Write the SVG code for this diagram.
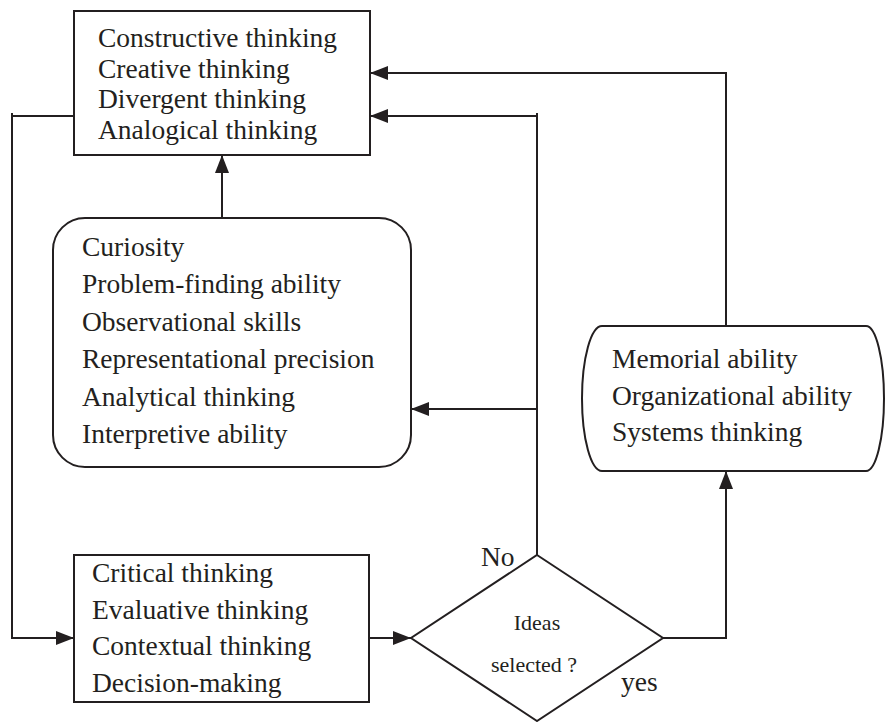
<svg xmlns="http://www.w3.org/2000/svg" width="885" height="722" viewBox="0 0 885 722">
  <defs>
    <marker id="arrow" markerWidth="18" markerHeight="14" refX="18" refY="7" orient="auto" markerUnits="userSpaceOnUse">
      <path d="M0,0 L18,7 L0,14 Z" fill="#231f20"/>
    </marker>
  </defs>
  <style>
    .shape { fill: #ffffff; stroke: #231f20; stroke-width: 2; }
    .wire { fill: none; stroke: #231f20; stroke-width: 2; }
    .label { font-family: "Liberation Serif", "Times New Roman", serif; font-size: 27.5px; fill: #231f20; }
    .small { font-family: "Liberation Serif", "Times New Roman", serif; font-size: 22px; fill: #231f20; }
  </style>
  <rect width="885" height="722" fill="#ffffff"/>

  <!-- connectors -->
  <g id="connectors">
    <!-- rounded box up to the thinking box -->
    <line class="wire" x1="222" y1="218" x2="222" y2="155" marker-end="url(#arrow)"/>
    <!-- left loop: thinking box down to evaluation box -->
    <polyline class="wire" points="74,116 12,116"/>
    <polyline class="wire" points="12,113 12,638 74,638" marker-end="url(#arrow)"/>
    <!-- evaluation box to decision -->
    <line class="wire" x1="369" y1="638" x2="411" y2="638" marker-end="url(#arrow)"/>
    <!-- "No" branch -->
    <line class="wire" x1="537" y1="555" x2="537" y2="113"/>
    <line class="wire" x1="537" y1="116" x2="370" y2="116" marker-end="url(#arrow)"/>
    <line class="wire" x1="537" y1="409" x2="411" y2="409" marker-end="url(#arrow)"/>
    <!-- "yes" branch -->
    <polyline class="wire" points="663,638 726,638 726,471" marker-end="url(#arrow)"/>
    <!-- memory box back to the thinking box -->
    <polyline class="wire" points="726,326 726,73 370,73" marker-end="url(#arrow)"/>
  </g>

  <g id="thinking">
    <rect class="shape" x="74" y="11" width="296" height="144"/>
    <text class="label" x="98" y="47">Constructive thinking</text>
    <text class="label" x="98" y="77.5">Creative thinking</text>
    <text class="label" x="98" y="108">Divergent thinking</text>
    <text class="label" x="98" y="138.5">Analogical thinking</text>
  </g>

  <g id="abilities">
    <rect class="shape" x="53" y="218" width="358" height="249" rx="32" ry="32"/>
    <text class="label" x="82" y="256">Curiosity</text>
    <text class="label" x="82" y="293">Problem-finding ability</text>
    <text class="label" x="82" y="330.5">Observational skills</text>
    <text class="label" x="82" y="368">Representational precision</text>
    <text class="label" x="82" y="405.5">Analytical thinking</text>
    <text class="label" x="82" y="443">Interpretive ability</text>
  </g>

  <g id="memory">
    <path class="shape" d="M602,326 H866 A18,72.5 0 0 1 866,471 H602 A20,72.5 0 0 1 602,326 Z"/>
    <text class="label" x="612" y="368">Memorial ability</text>
    <text class="label" x="612" y="404.5">Organizational ability</text>
    <text class="label" x="612" y="440.5">Systems thinking</text>
  </g>

  <g id="evaluation">
    <rect class="shape" x="74" y="555" width="295" height="147"/>
    <text class="label" x="92" y="582">Critical thinking</text>
    <text class="label" x="92" y="618.5">Evaluative thinking</text>
    <text class="label" x="92" y="655">Contextual thinking</text>
    <text class="label" x="92" y="692">Decision-making</text>
  </g>

  <g id="decision">
    <polygon class="shape" points="537,555 663,638 537,721 411,638"/>
    <text class="small" x="537" y="630" text-anchor="middle">Ideas</text>
    <text class="small" x="534" y="672" text-anchor="middle">selected ?</text>
    <text class="label" x="481" y="566">No</text>
    <text class="label" x="621" y="691">yes</text>
  </g>
</svg>
